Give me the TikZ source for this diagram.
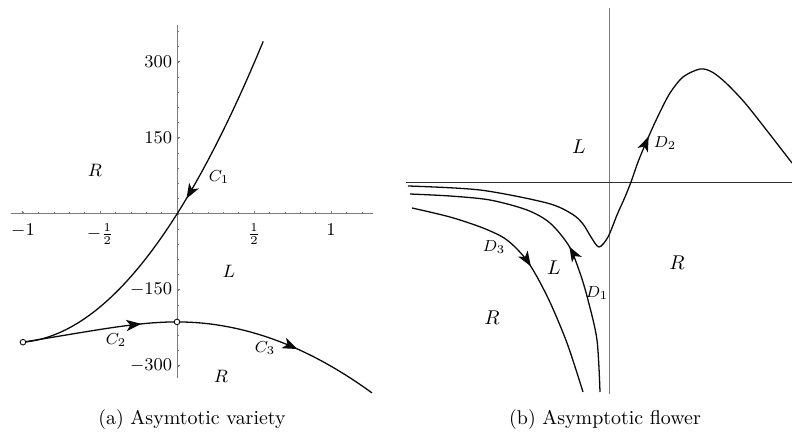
\documentclass[tikz,border=0pt]{standalone}
\usepackage{amsmath,amssymb}
\usepackage{tikz}
\usetikzlibrary{arrows.meta,decorations.markings}
\usepackage{xcolor}
\definecolor{ink}{HTML}{0B0B0B}
\definecolor{axisgrey}{HTML}{7C7C7C}
\definecolor{axisdark}{HTML}{2E2E2E}

\tikzset{
  axisline/.style={axisgrey, line width=0.5pt},
  flowline/.style={ink, line width=0.65pt},
  flowtip/.style={postaction={decorate}, decoration={markings, mark=at position #1 with {\arrow{Stealth[length=7.5bp,width=5.6bp,inset=2bp]}}}},
  backtip/.style={postaction={decorate}, decoration={markings, mark=at position #1 with {\arrow{Stealth[length=7.5bp,width=5.6bp,inset=2bp,reversed]}}}},
  endpt/.style={circle, draw=ink, fill=white, line width=0.45pt, inner sep=0pt, minimum size=2.8bp},
  ticklbl/.style={font=\small, inner sep=1.5pt},
  curvelbl/.style={font=\footnotesize, inner sep=0pt},
}

\begin{document}
\begin{tikzpicture}[x=0.5bp,y=-0.5bp]
  \useasboundingbox (0,0) rectangle (792,432);
  % (a) axes and curves in data units
  \begin{scope}[shift={(177,214)},x=77bp,y=0.25333bp]
    \draw[axisline] (-1.08,0) -- (1.27,0); \draw[axisline] (0,-323) -- (0,373);
    \foreach \t in {-10,...,12} \draw[axisline, line width=0.3pt] (\t/10,0) -- (\t/10,3.5);
    \foreach \t in {-1,-0.5,0.5,1} \draw[axisline] (\t,0) -- (\t,6);
    \foreach \v in {-300,-270,...,360} \draw[axisline, line width=0.3pt] (0,\v) -- (0.013,\v);
    \foreach \v in {-300,-150,150,300} \draw[axisline] (0,\v) -- (0.022,\v);
    \foreach \t/\l/\n in {-1/{$-1$}/a,-0.5/{$-\frac{1}{2}$}/b,0.5/{$\frac{1}{2}$}/c,1/{$1$}/d}
      \node[ticklbl, anchor=north] (xt\n) at (\t,-12) {\l};
    \foreach \v/\n in {-300/a,-150/b,150/c,300/d}
      \node[ticklbl, anchor=east] (yt\n) at (-0.01,\v) {$\v$};
    \draw[flowline, backtip=0.60] plot[domain=-1:0.56, samples=40] (\x,{481*\x+228*\x*\x});
    \draw[flowline, flowtip=0.77] (-1,-253) .. controls (-0.5,-228) and (-0.25,-213) .. (0,-213);
    \draw[flowline, flowtip=0.59] plot[domain=0:1.266, samples=30] (\x,{-213-87.4*\x*\x});
    \node[endpt] (pm) at (-1,-253) {};
    \node[endpt] (p0) at (0,-213) {};
  \end{scope}
  % (a) labels
  \node[font=\small] (ra) at (95,170) {$R$};
  \node[font=\small] (la) at (229,271) {$L$};
  \node[font=\small] (rb) at (221,376) {$R$};
  \node[curvelbl] (c1) at (219,177) {$C_1$};
  \node[curvelbl] (c2) at (116,340) {$C_2$};
  \node[curvelbl] (c3) at (265,348) {$C_3$};
  % (b) flower
  \draw[axisline] (609,8) -- (609,394);
  \draw[axisdark, line width=0.5pt] (406,183) -- (792,183);
  \draw[flowline, flowtip=0.60] plot[smooth] coordinates {(408,186) (480,190) (547,203) (572,214) (583,224) (591,237) (599,247) (608,237) (617,215) (625,197) (631,182) (638,162) (645,145) (652,129) (660,112) (670,93) (683,77) (700,69) (712,72) (726,83) (745,103) (768,132) (792,163)};
  \draw[flowline, flowtip=0.46] plot[smooth] coordinates {(600,392) (597,340) (588,300) (580,273) (569,246) (550,223) (527,210) (490,200) (450,196) (410,194)};
  \draw[flowline, flowtip=0.50] plot[smooth] coordinates {(412,208) (450,217) (483,228) (507,240) (528,262) (548,298) (567,343) (583,392)};
  \node (lb) at (579,147) {$L$};
  \node (lc) at (554,268) {$L$};
  \node (rc) at (492,318) {$R$};
  \node (rd) at (677,263) {$R$};
  \node[curvelbl] (d1) at (597,293) {$D_1$};
  \node[curvelbl] (d2) at (665,143) {$D_2$};
  \node[curvelbl] (d3) at (494,247) {$D_3$};
  % captions
  \node (capa) at (192,420) {(a) Asymtotic variety};
  \node (capb) at (605,420) {(b) Asymptotic flower};
\end{tikzpicture}
\end{document}
